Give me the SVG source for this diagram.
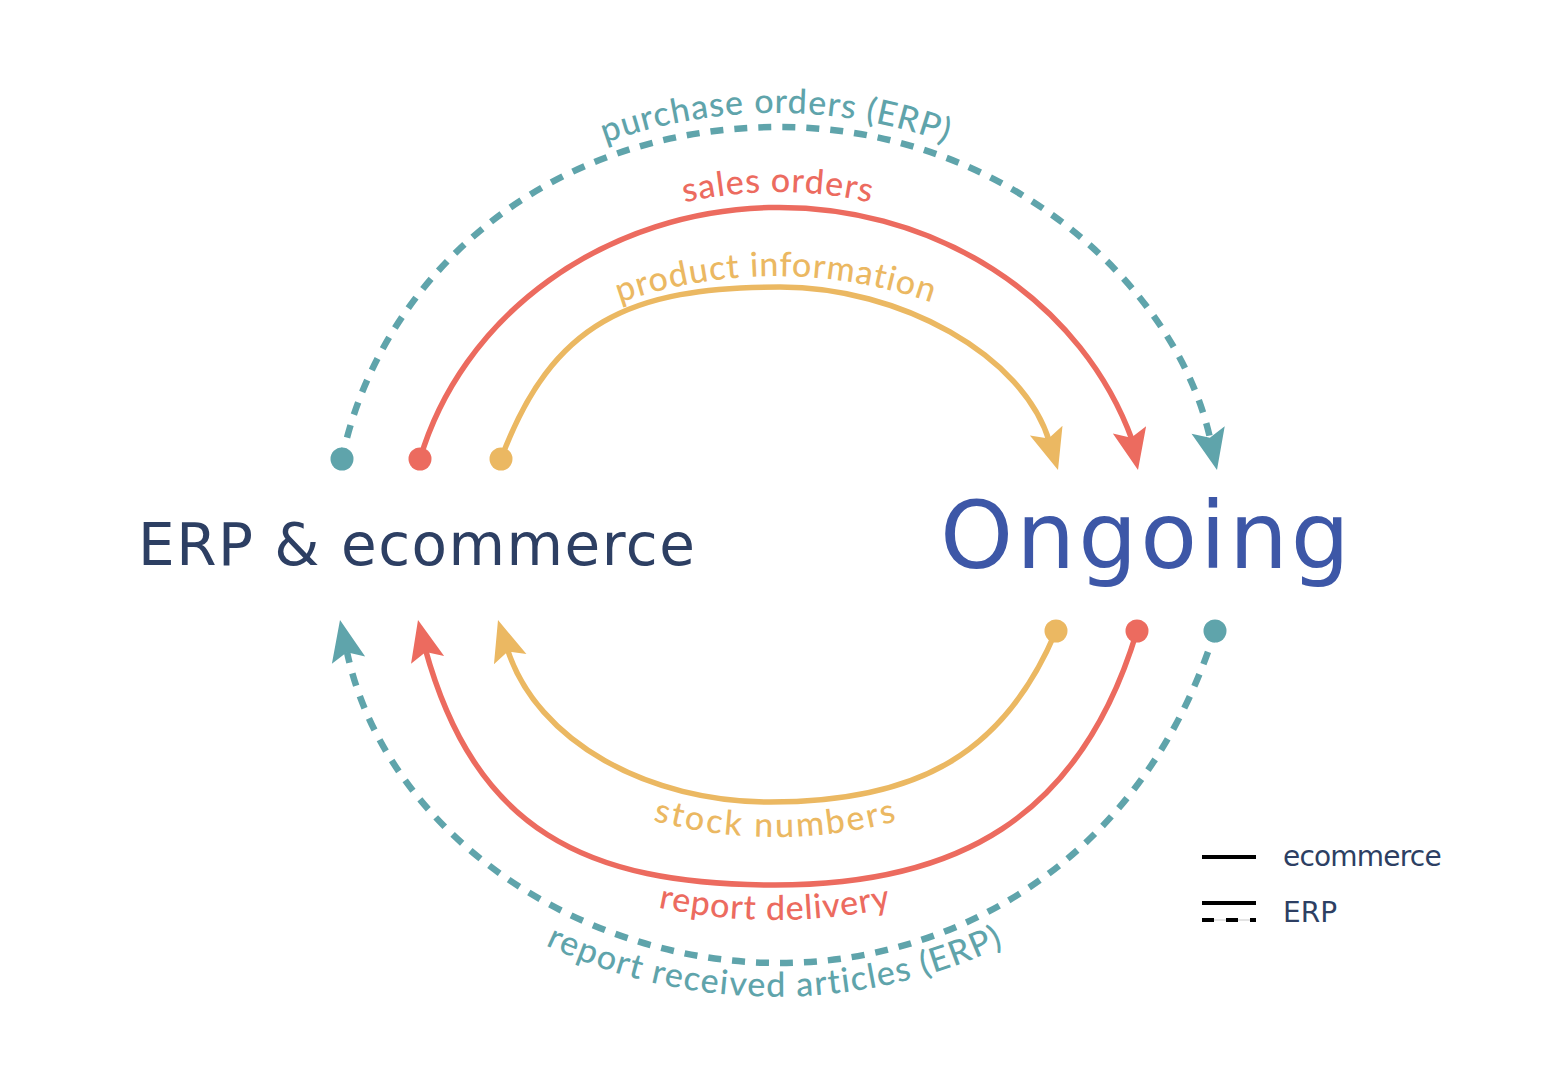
<svg xmlns="http://www.w3.org/2000/svg" xmlns:xlink="http://www.w3.org/1999/xlink" width="1554" height="1080" viewBox="0 0 1554 1080">
<style>
.ln{fill:none;stroke-width:5.5}
.red{stroke:#EC6B5F}
.yel{stroke:#EBB862}
.dash{fill:none;stroke:#5FA4AB;stroke-width:6.5;stroke-dasharray:13 11;stroke-dashoffset:2}
.fr{fill:#EC6B5F}
.fy{fill:#EBB862}
.ft{fill:#5FA4AB}
.lbl{font-family:Lato,"DejaVu Sans",sans-serif;font-size:34px;font-weight:500}
.big{font-family:"DejaVu Sans","Liberation Sans",sans-serif}
.leg{font-family:"DejaVu Sans","Liberation Sans",sans-serif;font-size:28px;fill:#2D3F63}
</style>
<defs>
<path id="ah" d="M0,0 L-17,-41 L0,-33 L17,-41 Z"/>
<path id="tp1" d="M310,545 A466,432 0 0 1 1242,545"/>
<path id="tp2" d="M393,545 A385,353 0 0 1 1163,545"/>
<path id="tp3" d="M306,746 A470,470 0 0 1 1246,746"/>
<path id="tp4" d="M376,613.8 A470,470 0 0 0 1176,613.8"/>
<path id="tp5" d="M375,747.5 A550,550 0 0 0 1175,747.5"/>
<path id="tp6" d="M355,795 A538,538 0 0 0 1195,795"/>
</defs>
<rect width="1554" height="1080" fill="#FFFFFF"/>

<g id="node-erp">
<text class="big" x="138" y="565" font-size="58" letter-spacing="1.5" fill="#2D3F63">ERP &amp; ecommerce</text>
</g>
<g id="node-ongoing">
<text class="big" x="940" y="568" font-size="93" letter-spacing="3" fill="#3D57A7">Ongoing</text>
</g>

<g id="connectors">
<!-- top: ERP & ecommerce -> Ongoing -->
<path id="c-purchase" class="dash" d="M342,459 C378,283 540,127 780,127 C1000,127 1175,282 1210,438"/>
<path id="c-sales" class="ln red" d="M420,459 A372,340 0 0 1 1132.5,441"/>
<path id="c-product" class="ln yel" d="M501,459 C552,322 630,287 780,287 C900,287 1023.5,355 1049.5,442"/>
<!-- bottom: Ongoing -> ERP & ecommerce -->
<path id="c-stock" class="ln yel" d="M1056,631 C1005,752 920,802 770,802 C650,802 537,743 507,648"/>
<path id="c-delivery" class="ln red" d="M1137,631 C1080,820 955,885 775,885 C585,885 475,830 425,648"/>
<path id="c-received" class="dash" d="M1215,631 C1138.5,873 940,963 780,963 C580,963 386,834 347,652"/>

<circle class="ft" cx="342" cy="459" r="11.5"/>
<circle class="fr" cx="420" cy="459" r="11.5"/>
<circle class="fy" cx="501" cy="459" r="11.5"/>
<circle class="fy" cx="1056" cy="631" r="11.5"/>
<circle class="fr" cx="1137" cy="631" r="11.5"/>
<circle class="ft" cx="1215" cy="631" r="11.5"/>

<use xlink:href="#ah" class="fy" transform="translate(1058,470) rotate(-16.7)"/>
<use xlink:href="#ah" class="fr" transform="translate(1138,470) rotate(-12)"/>
<use xlink:href="#ah" class="ft" transform="translate(1217,470) rotate(-12.5)"/>
<use xlink:href="#ah" class="ft" transform="translate(340,620) rotate(168)"/>
<use xlink:href="#ah" class="fr" transform="translate(418,620) rotate(166.5)"/>
<use xlink:href="#ah" class="fy" transform="translate(498,620) rotate(162.7)"/>

<text class="lbl ft" letter-spacing="1"><textPath xlink:href="#tp1" startOffset="50%" text-anchor="middle">purchase orders (ERP)</textPath></text>
<text class="lbl fr" letter-spacing="1"><textPath xlink:href="#tp2" startOffset="50%" text-anchor="middle">sales orders</textPath></text>
<text class="lbl fy" letter-spacing="1"><textPath xlink:href="#tp3" startOffset="50%" text-anchor="middle">product information</textPath></text>
<text class="lbl fy" letter-spacing="2.3"><textPath xlink:href="#tp4" startOffset="50%" text-anchor="middle">stock numbers</textPath></text>
<text class="lbl fr" letter-spacing="1"><textPath xlink:href="#tp5" startOffset="50%" text-anchor="middle">report delivery</textPath></text>
<text class="lbl ft" letter-spacing="1.4"><textPath xlink:href="#tp6" startOffset="50%" text-anchor="middle">report received articles (ERP)</textPath></text>
</g>

<g id="legend">
<line x1="1202" y1="857" x2="1256" y2="857" stroke="#000" stroke-width="4"/>
<text class="leg" x="1283" y="866" letter-spacing="-0.8">ecommerce</text>
<line x1="1202" y1="903" x2="1256" y2="903" stroke="#000" stroke-width="4"/>
<line x1="1202" y1="920" x2="1256" y2="920" stroke="#C8C8C8" stroke-width="1"/>
<line x1="1202" y1="920" x2="1256" y2="920" stroke="#000" stroke-width="4" stroke-dasharray="12 12"/>
<text class="leg" x="1283" y="922">ERP</text>
</g>
</svg>
